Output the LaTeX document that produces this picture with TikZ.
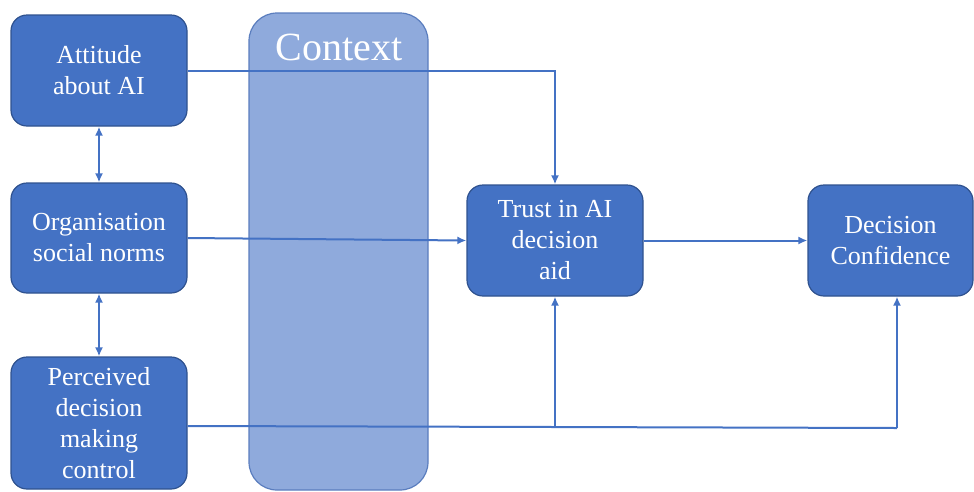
\documentclass[tikz,border=0pt]{standalone}
\usepackage{fontspec}
\setmainfont{Liberation Serif}
\newfontfamily\tnr{Liberation Serif}
\usetikzlibrary{arrows.meta}
\definecolor{boxblue}{HTML}{4472C4}
\definecolor{boxedge}{HTML}{2F528F}
\definecolor{ctxfill}{HTML}{8FAADC}
\definecolor{ctxedge}{HTML}{5A7DBE}
\begin{document}
\begin{tikzpicture}[x=1pt,y=-1pt,
 box/.style={draw=boxedge, line width=1.2pt, fill=boxblue, rounded corners=16pt, text=white, align=center, font=\tnr\fontsize{26}{31}\selectfont, inner sep=0pt},
 ctx/.style={draw=ctxedge, line width=1.2pt, fill=ctxfill, rounded corners=28pt, inner sep=0pt},
 conn/.style={draw=boxblue, line width=2pt},
 arr/.style={conn, -{Latex[length=9pt,width=8pt]}},
 darr/.style={conn, {Latex[length=9pt,width=8pt]}-{Latex[length=9pt,width=8pt]}}]
\useasboundingbox (0,0) rectangle (974,491);
\node[ctx, minimum width=179pt, minimum height=477pt] (ctxbox) at (338.5,251.5) {};
\node[text=white, font=\tnr\fontsize{40}{44}\selectfont, inner sep=0pt] (ctxlabel) at (339,47) {Context};
\node[box, minimum width=176pt, minimum height=111pt] (att) at (99,70.5) {Attitude\\about AI};
\node[box, minimum width=176pt, minimum height=110pt] (org) at (99,238) {Organisation\\social norms};
\node[box, minimum width=176pt, minimum height=132pt] (per) at (99,423) {Perceived\\decision\\making\\control};
\node[box, minimum width=176pt, minimum height=111pt] (trust) at (555,240.5) {Trust in AI\\decision\\aid};
\node[box, minimum width=165pt, minimum height=111pt] (dc) at (890.5,240.5) {Decision\\Confidence};
\coordinate (j1) at (555,427);
\coordinate (j2) at (897,428);
\draw[arr] (att.east) -| (trust.north);
\draw[arr] (org.east) -- (trust.west);
\draw[arr] (trust.east) -- (dc.west);
\draw[conn] ([yshift=-3pt]per.east) -- (j1) -- (j2);
\draw[arr] (j1) -- (trust.south);
\draw[arr] (j2) -- (j2 |- dc.south);
\draw[darr] (att.south) -- (org.north);
\draw[darr] (org.south) -- (per.north);
\end{tikzpicture}
\end{document}
